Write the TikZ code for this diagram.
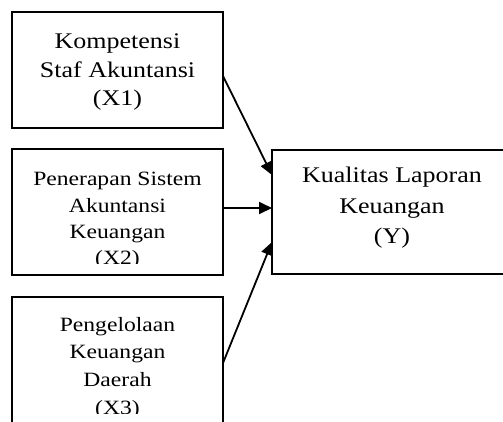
\documentclass[tikz,border=0pt]{standalone}
\usepackage{fontspec}
\setmainfont{Liberation Serif}
\usepackage{graphicx}
\usepackage{tikz}
\usetikzlibrary{arrows.meta,positioning}
\newcommand{\boxlines}[1]{\scalebox{1}[0.86]{\begin{tabular}{@{}c@{}}#1\end{tabular}}}
\tikzstyle{block} = [rectangle, draw, line width=1.8pt, inner sep=0pt, outer sep=0pt, minimum width=211pt]
\tikzstyle{bigtext} = [inner sep=0pt, font=\fontsize{26}{32.6}\selectfont]
\tikzstyle{smalltext} = [inner sep=0pt, font=\fontsize{23.6}{30.6}\selectfont]
\tikzstyle{line} = [draw, line width=1.8pt, -{Triangle[length=13pt,width=12pt]}]

\begin{document}
\begin{tikzpicture}[x=1pt, y=-1pt]
    \useasboundingbox (0,0) rectangle (503,421);
    \clip (0,0) rectangle (503,421);

    % boxes
    \node [block, minimum height=116pt] (x1) at (117.5,70) {};
    \node [block, minimum height=126pt, below=21pt of x1] (x2) {};
    \node [block, minimum height=132pt, below=22pt of x2] (x3) {};
    \node [block, minimum width=240pt, minimum height=124pt] (y) at (392,212) {};

    % texts
    \node [bigtext] (x1txt) at (117.5,71.4) {\boxlines{Kompetensi\\Staf Akuntansi\\(X1)}};
    \begin{scope}
        \clip (x2.north west) rectangle (223,263);
        \node [smalltext] (x2txt) at (117.5,220) {\boxlines{Penerapan Sistem\\Akuntansi\\Keuangan\\(X2)}};
    \end{scope}
    \begin{scope}
        \clip (x3.north west) rectangle (223,413);
        \node [smalltext, font=\fontsize{23.6}{32.2}\selectfont] (x3txt) at (117.5,367) {\boxlines{Pengelolaan\\Keuangan\\Daerah\\(X3)}};
    \end{scope}
    \node [bigtext, font=\fontsize{26}{34.9}\selectfont] (ytxt) at (392,207) {\boxlines{Kualitas Laporan\\Keuangan\\(Y)}};

    % arrows
    \path [line] ([yshift=-6pt]x1.east) -- ([yshift=37pt]y.west);
    \path [line] ([yshift=4pt]y.west -| x2.east) -- ([yshift=4pt]y.west);
    \path [line] (x3.east) -- ([yshift=-30pt]y.west);
\end{tikzpicture}
\end{document}
